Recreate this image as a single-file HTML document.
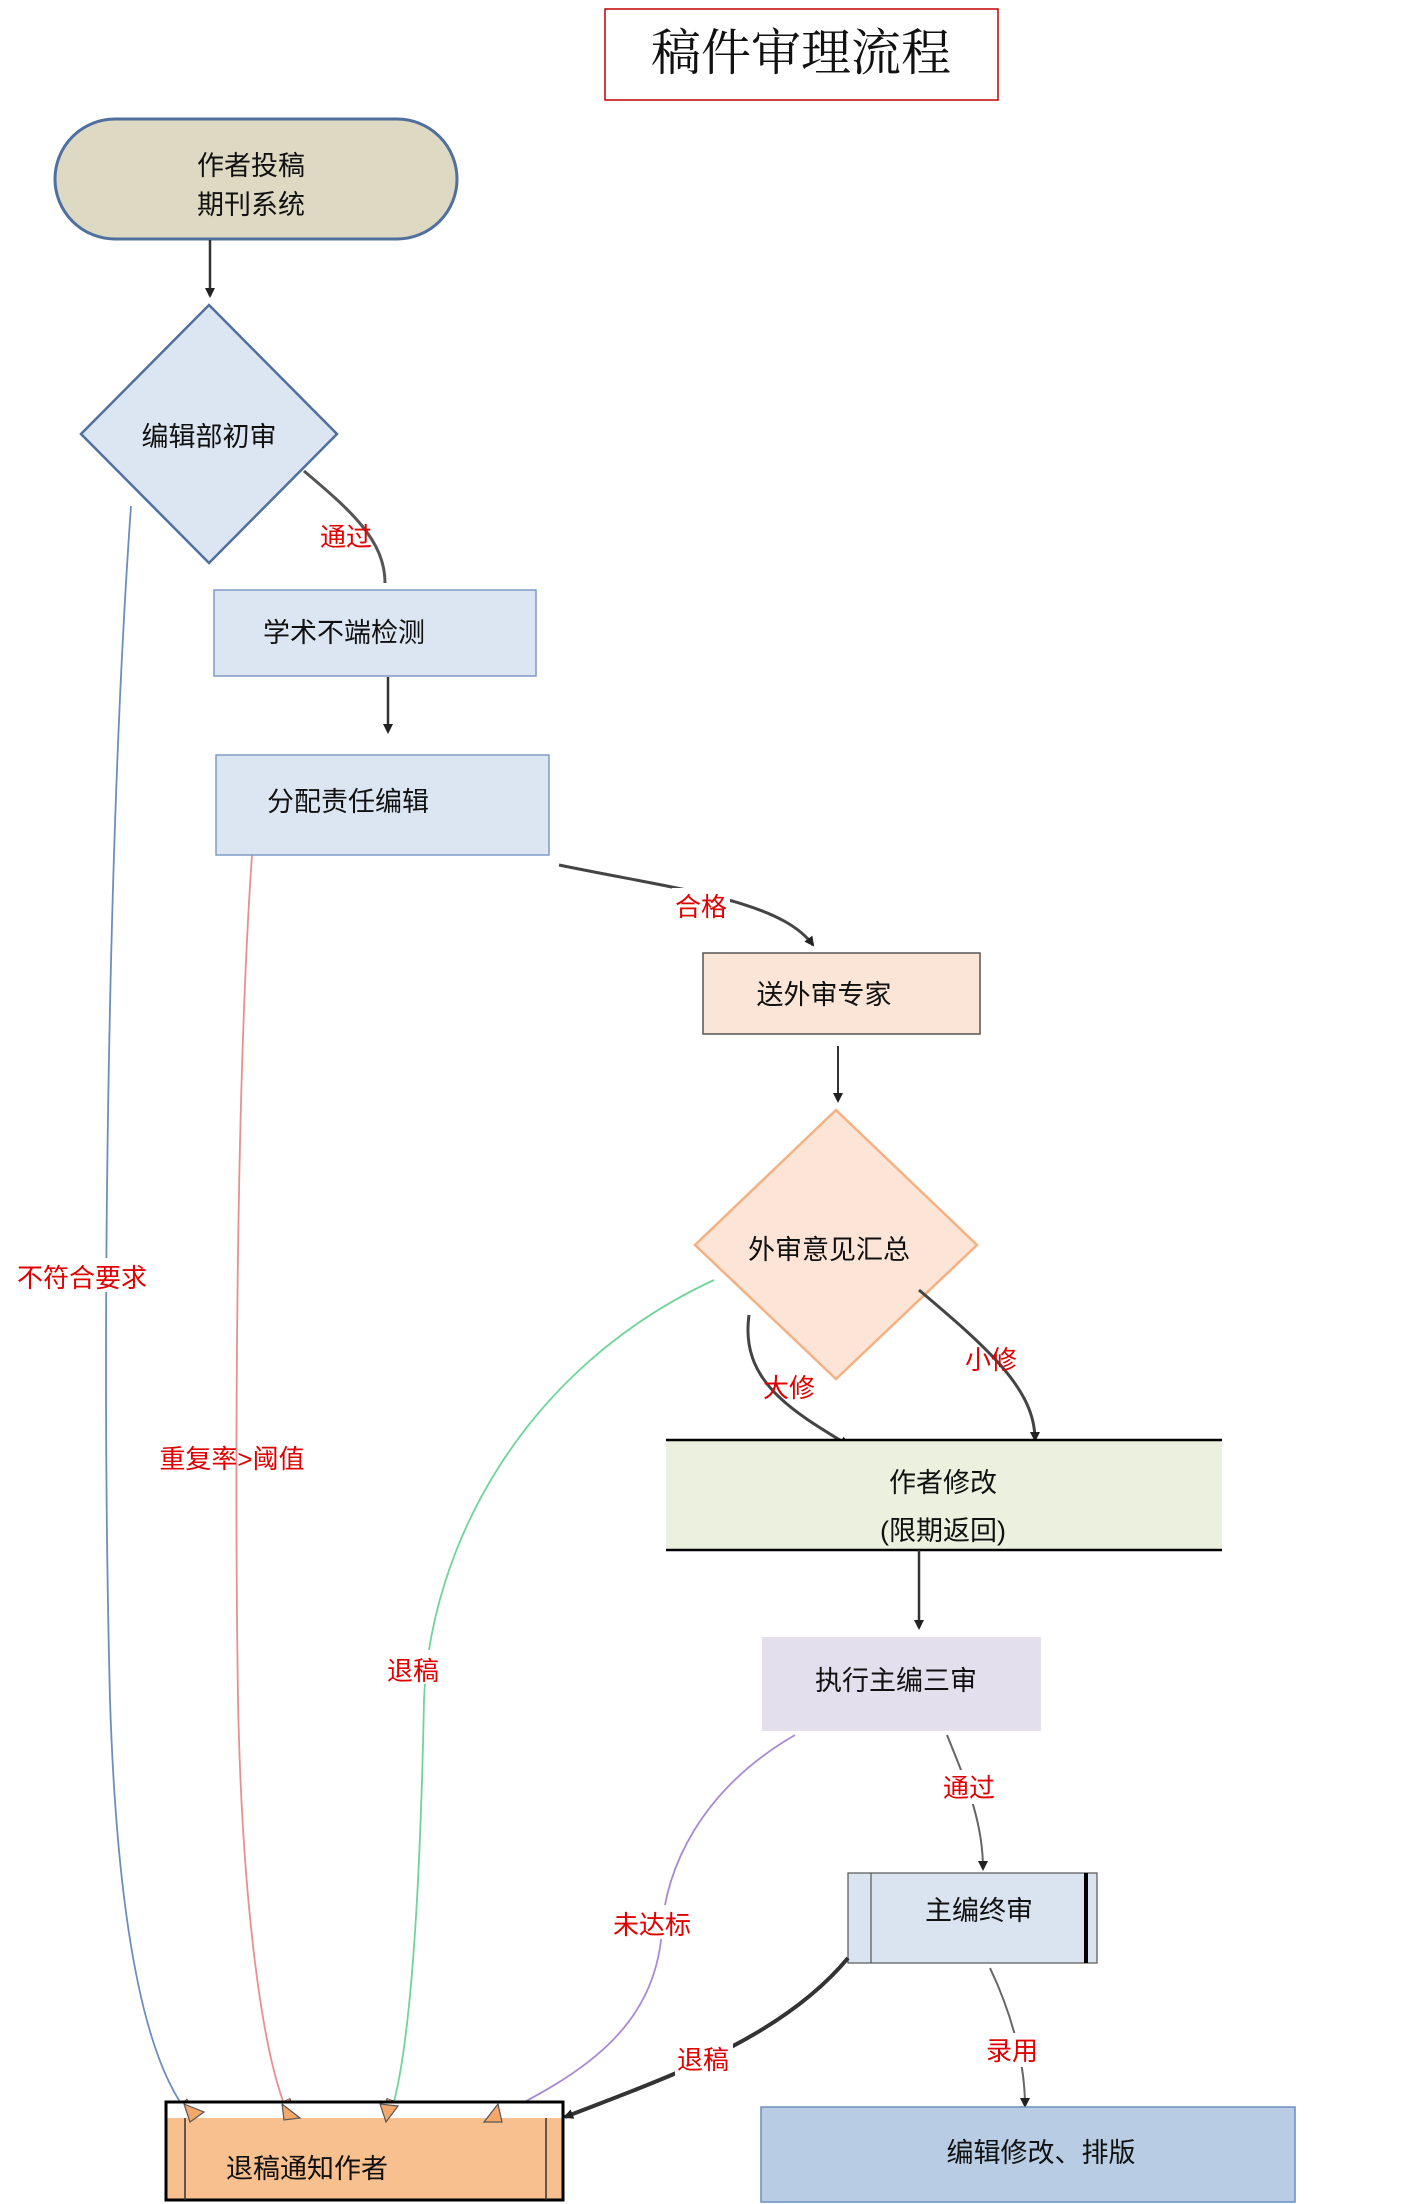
<!DOCTYPE html>
<html><head><meta charset="utf-8"><style>
html,body{margin:0;padding:0;background:#fff;}
svg{display:block;}
text{font-family:"Liberation Sans","Noto Sans CJK SC",sans-serif;}
.n{font-size:27px;fill:#111;}
.l{font-size:26px;fill:#e00000;}
</style></head><body>
<svg width="1414" height="2204" viewBox="0 0 1414 2204" xmlns="http://www.w3.org/2000/svg">
<defs>
<marker id="a" markerWidth="10" markerHeight="10" refX="8" refY="5" orient="auto" markerUnits="userSpaceOnUse"><path d="M0,0 L10,5 L0,10 z" fill="#222"/></marker>
<marker id="t" markerWidth="22" markerHeight="18" refX="18" refY="9" orient="auto" markerUnits="userSpaceOnUse"><path d="M0,0 L20,9 L0,18 z" fill="#f4a76a" stroke="#555" stroke-width="1.2"/></marker>
</defs>
<rect x="605" y="9" width="393" height="91" fill="#fff" stroke="#c00000" stroke-width="1.5"/>
<text x="801" y="70" text-anchor="middle" style="font-family:'Liberation Serif','Noto Serif CJK SC',serif;font-size:50px;fill:#111">稿件审理流程</text>

<rect x="55" y="119" width="402" height="120" rx="60" fill="#ddd9c3" stroke="#4f6f9f" stroke-width="3"/>
<text class="n" x="251" y="175" text-anchor="middle">作者投稿</text>
<text class="n" x="251" y="214" text-anchor="middle">期刊系统</text>
<line x1="210" y1="240" x2="210" y2="296" stroke="#333" stroke-width="2.5" marker-end="url(#a)"/>

<polygon points="209,305 337,434 209,563 81,434" fill="#dce6f2" stroke="#4f6f9f" stroke-width="2.5"/>
<text class="n" x="209" y="446" text-anchor="middle">编辑部初审</text>

<path d="M131,506 C110,800 100,1300 110,1700 C118,1950 150,2070 192,2118" fill="none" stroke="#6c8ebf" stroke-width="1.8" marker-end="url(#t)"/>
<path d="M252,855 C235,1100 235,1500 238,1700 C242,1900 262,2060 290,2118" fill="none" stroke="#e8908f" stroke-width="1.8" marker-end="url(#t)"/>
<path d="M714,1280 C520,1370 430,1550 424,1700 C420,1900 410,2060 389,2118" fill="none" stroke="#6fd49a" stroke-width="1.8" marker-end="url(#t)"/>
<path d="M795,1735 C700,1790 665,1870 662,1930 C655,2030 580,2075 493,2118" fill="none" stroke="#a88ad4" stroke-width="1.8" marker-end="url(#t)"/>
<rect x="20" y="1258" width="130" height="34" fill="#fff"/>
<text class="l" x="82" y="1287" text-anchor="middle">不符合要求</text>
<text class="l" x="232" y="1468" text-anchor="middle">重复率&gt;阈值</text>
<rect x="385" y="1650" width="56" height="34" fill="#fff"/>
<text class="l" x="413" y="1680" text-anchor="middle">退稿</text>
<rect x="610" y="1905" width="84" height="34" fill="#fff"/>
<text class="l" x="652" y="1934" text-anchor="middle">未达标</text>

<path d="M304,471 C350,510 385,540 385,583" fill="none" stroke="#555" stroke-width="3"/>
<text class="l" x="346" y="546" text-anchor="middle">通过</text>

<rect x="214" y="590" width="322" height="86" fill="#dce6f2" stroke="#7f9cc7" stroke-width="1.5"/>
<text class="n" x="263" y="642">学术不端检测</text>
<line x1="388" y1="677" x2="388" y2="732" stroke="#333" stroke-width="2.5" marker-end="url(#a)"/>

<rect x="216" y="755" width="333" height="100" fill="#dce6f2" stroke="#7f9cc7" stroke-width="1.5"/>
<text class="n" x="267" y="811">分配责任编辑</text>

<path d="M559,865 C680,890 780,900 813,945" fill="none" stroke="#444" stroke-width="3" marker-end="url(#a)"/>
<rect x="672" y="888" width="58" height="34" fill="#fff"/>
<text class="l" x="701" y="916" text-anchor="middle">合格</text>

<rect x="703" y="953" width="277" height="81" fill="#fbe5d6" stroke="#555" stroke-width="1.5"/>
<text class="n" x="824" y="1004" text-anchor="middle">送外审专家</text>
<line x1="838" y1="1046" x2="838" y2="1101" stroke="#333" stroke-width="2" marker-end="url(#a)"/>

<polygon points="836,1110 977,1245 836,1379 695,1245" fill="#fce4d6" stroke="#f4b183" stroke-width="2.5"/>
<text class="n" x="829" y="1259" text-anchor="middle">外审意见汇总</text>

<path d="M749,1315 C740,1380 790,1410 848,1445" fill="none" stroke="#444" stroke-width="3" marker-end="url(#a)"/>
<text class="l" x="789" y="1397" text-anchor="middle">大修</text>
<path d="M919,1290 C990,1350 1035,1390 1035,1440" fill="none" stroke="#444" stroke-width="3" marker-end="url(#a)"/>
<text class="l" x="991" y="1369" text-anchor="middle">小修</text>

<rect x="666" y="1440" width="556" height="110" fill="#ebf1de"/>
<line x1="666" y1="1440" x2="1222" y2="1440" stroke="#000" stroke-width="2.5"/>
<line x1="666" y1="1550" x2="1222" y2="1550" stroke="#000" stroke-width="2.5"/>
<text class="n" x="943" y="1492" text-anchor="middle">作者修改</text>
<text class="n" x="943" y="1540" text-anchor="middle">(限期返回)</text>
<line x1="919" y1="1550" x2="919" y2="1628" stroke="#333" stroke-width="2.5" marker-end="url(#a)"/>

<rect x="762" y="1637" width="279" height="94" fill="#e4dfec"/>
<text class="n" x="896" y="1690" text-anchor="middle">执行主编三审</text>

<path d="M947,1735 C965,1780 983,1820 983,1869" fill="none" stroke="#666" stroke-width="2" marker-end="url(#a)"/>
<rect x="940" y="1770" width="58" height="34" fill="#fff"/>
<text class="l" x="969" y="1797" text-anchor="middle">通过</text>

<rect x="848" y="1873" width="249" height="90" fill="#dae3f0" stroke="#555" stroke-width="1.2"/>
<line x1="871" y1="1873" x2="871" y2="1963" stroke="#555" stroke-width="1.2"/>
<line x1="1086" y1="1873" x2="1086" y2="1963" stroke="#000" stroke-width="4"/>
<text class="n" x="979" y="1920" text-anchor="middle">主编终审</text>

<path d="M990,1968 C1010,2010 1025,2060 1025,2106" fill="none" stroke="#666" stroke-width="2" marker-end="url(#a)"/>
<rect x="983" y="2033" width="58" height="34" fill="#fff"/>
<text class="l" x="1012" y="2060" text-anchor="middle">录用</text>

<rect x="761" y="2107" width="534" height="95" fill="#b8cce4" stroke="#6c8ebf" stroke-width="1.5"/>
<text class="n" x="1041" y="2162" text-anchor="middle">编辑修改、排版</text>

<path d="M848,1958 C780,2040 660,2080 565,2117" fill="none" stroke="#333" stroke-width="4" marker-end="url(#a)"/>
<rect x="675" y="2042" width="58" height="34" fill="#fff"/>
<text class="l" x="703" y="2069" text-anchor="middle">退稿</text>

<rect x="166" y="2102" width="397" height="98" fill="#f8c08e"/>
<rect x="166" y="2102" width="397" height="16" fill="#fff"/>
<rect x="166" y="2102" width="397" height="98" fill="none" stroke="#000" stroke-width="3"/>
<line x1="185" y1="2118" x2="185" y2="2200" stroke="#333" stroke-width="1.5"/>
<line x1="546" y1="2118" x2="546" y2="2200" stroke="#333" stroke-width="1.5"/>
<text class="n" x="226" y="2178">退稿通知作者</text>
<!-- arrowheads drawn on top -->
<g fill="#f4a76a" stroke="#555" stroke-width="1.2">
<path d="M184,2104 L204,2112 L190,2122 z"/>
<path d="M282,2104 L300,2118 L284,2120 z"/>
<path d="M380,2104 L398,2106 L386,2122 z"/>
<path d="M498,2104 L484,2122 L502,2122 z"/>
</g>
</svg>
</body></html>
